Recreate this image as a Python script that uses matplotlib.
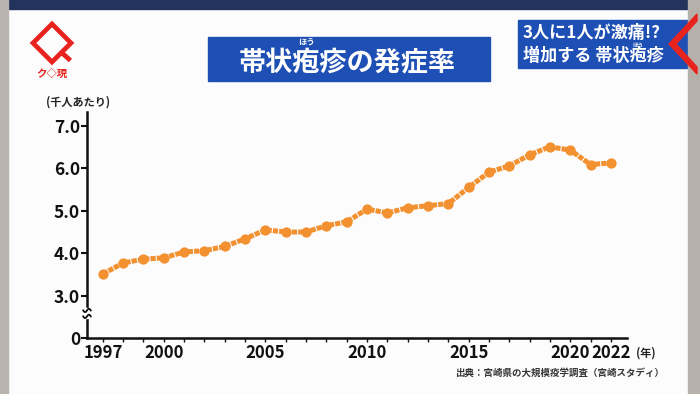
import matplotlib
matplotlib.use("Agg")
import matplotlib.pyplot as plt
from matplotlib.patches import Rectangle, Polygon
import numpy as np

plt.rcParams['font.family'] = ['Noto Sans CJK JP', 'DejaVu Sans']

years = list(range(1997, 2023))
rates = [3.51, 3.77, 3.86, 3.89, 4.03, 4.06, 4.16, 4.34, 4.55, 4.50,
         4.50, 4.65, 4.74, 5.04, 4.95, 5.07, 5.12, 5.17, 5.55, 5.91,
         6.06, 6.32, 6.51, 6.43, 6.09, 6.13]
xtick_years = [1997, 2000, 2005, 2010, 2015, 2020, 2022]
ytick_vals = [2.0, 3.0, 4.0, 5.0, 6.0, 7.0]
ytick_labels = ["0", "3.0", "4.0", "5.0", "6.0", "7.0"]

W, H = 700, 394
fig = plt.figure(figsize=(7, 3.94), dpi=100)
fig.patch.set_facecolor('#fcfcfc')

def px(x, y, w, h):
    return (x / W, 1 - (y + h) / H, w / W, h / H)

# background decorations (frame of the TV panel)
deco = fig.add_axes([0, 0, 1, 1])
deco.set_xlim(0, W)
deco.set_ylim(H, 0)
deco.axis('off')
deco.add_patch(Rectangle((0, 0), W, 9, color='#22335e'))
deco.add_patch(Rectangle((0, 0), 8, H, color='#b9b4ad'))

# logo
cx, cy, r = 52, 43, 19
deco.add_patch(Polygon([[cx, cy - r], [cx + r, cy], [cx, cy + r], [cx - r, cy]],
                       closed=True, fill=False, edgecolor='#e8231e', lw=3.4))
deco.plot([cx + r * 0.5, cx + r * 0.5 + 9], [cy + r * 0.5, cy + r * 0.5 + 8],
          color='#e8231e', lw=3.4, solid_capstyle='butt')
deco.text(52, 74, "ク◇現", color='#e8231e', fontsize=7.5, fontweight='bold',
          ha='center', va='center', family=['Noto Sans CJK JP', 'DejaVu Sans'])

# title box
deco.add_patch(Rectangle((208, 37), 282, 44, color='#1e4fb4'))
deco.text(347, 63, "帯状疱疹の発症率", color='white', fontsize=19.5, fontweight='bold',
          ha='center', va='center')
deco.text(307, 43, "ほう", color='white', fontsize=6, fontweight='bold',
          ha='center', va='center')

# right box
deco.add_patch(Rectangle((518, 20), 170, 48, color='#1e4fb4'))
deco.add_patch(Rectangle((688, 0), 12, H, color='#b5b0aa'))
deco.add_patch(Polygon([[697, 14], [669, 44], [697, 74], [697, 67], [676, 44], [697, 21]],
                       closed=True, color='#e8231e'))
deco.text(523, 33, "3人に1人が激痛!?", color='white', fontsize=12.3, fontweight='bold',
          ha='left', va='center')
deco.text(523, 56, "増加する 帯状疱疹", color='white', fontsize=12.3, fontweight='bold',
          ha='left', va='center')
deco.text(638, 45.5, "ほう", color='white', fontsize=4, fontweight='bold',
          ha='center', va='center')

# chart axes
ax = fig.add_axes(px(87, 112, 540, 226))
ax.set_facecolor('none')
ax.set_xlim(1996.22, 2022.79)
ax.set_ylim(2.0, 7.33)

ax.plot(years, rates, color='#f39131', lw=3.6, dashes=(1.05, 0.22),
        marker='o', markersize=7.4, markeredgewidth=0, zorder=3, clip_on=False)

for s in ['top', 'right']:
    ax.spines[s].set_visible(False)
for s in ['left', 'bottom']:
    ax.spines[s].set_linewidth(1.8)
    ax.spines[s].set_color('#111111')

ax.set_yticks(ytick_vals)
ax.set_yticklabels(ytick_labels)
ax.set_xticks(xtick_years)
ax.set_xticklabels([str(y) for y in xtick_years])
ax.set_xticks(years, minor=True)
ax.tick_params(axis='y', length=4, width=1.5, pad=1, labelsize=12.5, colors='#111111')
ax.tick_params(axis='x', which='major', length=3, width=1.0, pad=1, labelsize=12,
               colors='#111111')
ax.tick_params(axis='x', which='minor', length=3, width=1.0, colors='#111111')
for lab in ax.get_xticklabels() + ax.get_yticklabels():
    lab.set_fontweight('bold')

# axis break
trans = ax.get_yaxis_transform()
ax.add_patch(Rectangle((-0.012, 2.46), 0.024, 0.24, transform=trans, color='#fcfcfc',
                       clip_on=False, zorder=4))
t = np.linspace(-1, 1, 30)
for yb in (2.65, 2.51):
    ax.plot(t * 0.007, yb + 0.04 * np.sin(t * np.pi), transform=trans,
            color='#111111', lw=1.3, clip_on=False, zorder=5)

# texts
deco.text(46, 102, "(千人あたり)", fontsize=8, fontweight='bold', ha='left',
          va='center', color='#222222')
deco.text(636, 353, "(年)", fontsize=8, fontweight='bold', ha='left',
          va='center', color='#222222')
deco.text(664, 373, "出典：宮崎県の大規模疫学調査（宮崎スタディ）", fontsize=6.8,
          fontweight='bold', ha='right', va='center', color='#333333')

fig.savefig("out.png", dpi=100, facecolor=fig.get_facecolor())
